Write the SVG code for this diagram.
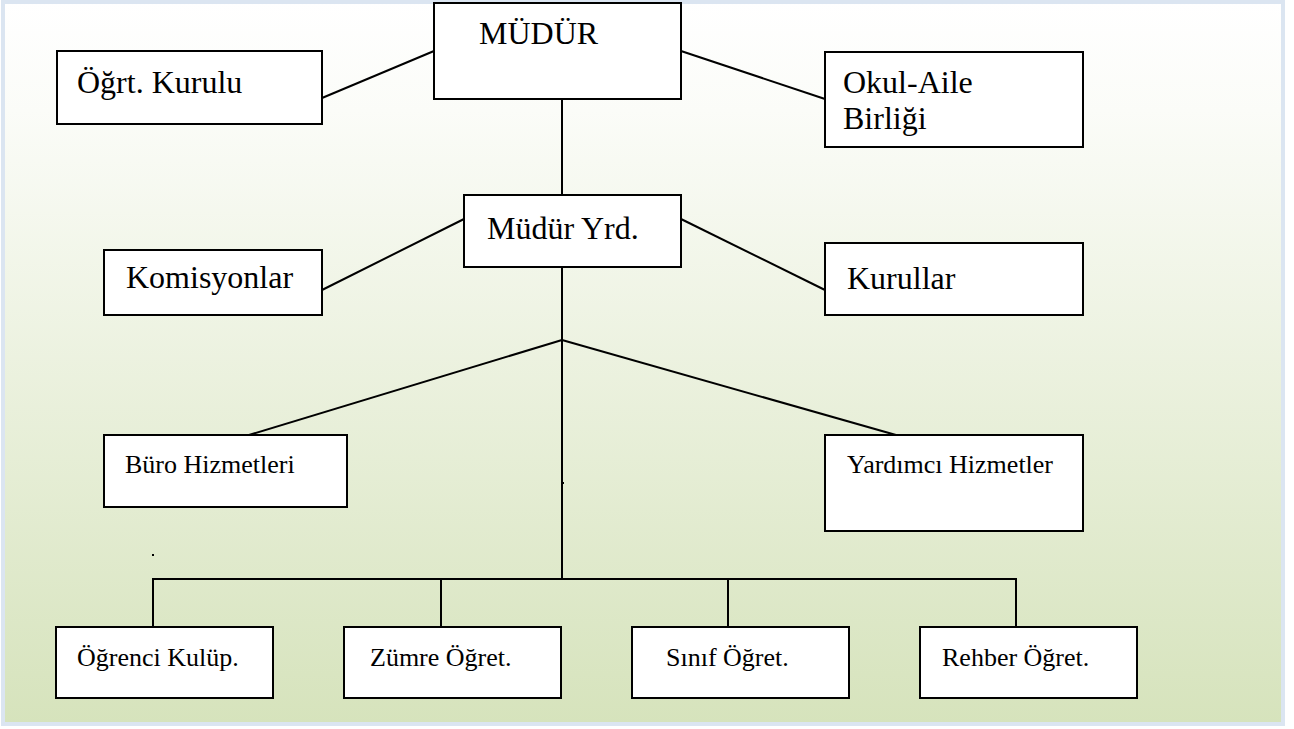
<svg xmlns="http://www.w3.org/2000/svg" width="1294" height="729" viewBox="0 0 1294 729">
<defs>
<linearGradient id="bg" x1="0" y1="0" x2="0" y2="1">
<stop offset="0" stop-color="#ffffff"/>
<stop offset="0.15" stop-color="#fbfcf8"/>
<stop offset="1" stop-color="#d6e3bc"/>
</linearGradient>
</defs>
<style>
.box{fill:#ffffff;stroke:#000000;stroke-width:2}
text{font-family:'Liberation Serif','Times New Roman',Tinos,'DejaVu Serif',serif;fill:#000}
.t{font-size:32px}
.m{font-size:26px}
.s{font-size:26px}
.c{stroke:#000;stroke-width:2;fill:none}
</style>
<rect x="0" y="0" width="1294" height="729" fill="#ffffff"/>
<rect x="3" y="2" width="1280" height="722" fill="url(#bg)" stroke="#dbe5f1" stroke-width="4"/>
<g id="connectors">
<line class="c" x1="322" y1="98" x2="434" y2="51"/>
<line class="c" x1="681" y1="51" x2="825" y2="99"/>
<line class="c" x1="562" y1="99" x2="562" y2="195"/>
<line class="c" x1="322" y1="290" x2="464" y2="219"/>
<line class="c" x1="681" y1="219" x2="825" y2="290"/>
<line class="c" x1="562" y1="267" x2="562" y2="579"/>
<line class="c" x1="562" y1="340" x2="249" y2="435"/>
<line class="c" x1="562" y1="340" x2="896" y2="435"/>
<polyline class="c" points="153,627 153,579 1016,579 1016,627"/>
<line class="c" x1="441" y1="579" x2="441" y2="627"/>
<line class="c" x1="728" y1="579" x2="728" y2="627"/>
<rect x="562" y="482" width="2" height="2" fill="#000"/>
<rect x="152" y="554" width="2" height="2" fill="#000"/>
</g>
<g id="mudur">
<rect class="box" x="434" y="3" width="247" height="96"/>
<text class="t" x="479" y="44">MÜDÜR</text>
</g>
<g id="ogrt-kurulu">
<rect class="box" x="57" y="51" width="265" height="73"/>
<text class="t" x="77" y="93">Öğrt. Kurulu</text>
</g>
<g id="okul-aile">
<rect class="box" x="825" y="52" width="258" height="95"/>
<text class="t" x="843" y="93">Okul-Aile</text>
<text class="t" x="843" y="129">Birliği</text>
</g>
<g id="mudur-yrd">
<rect class="box" x="464" y="195" width="217" height="72"/>
<text class="t" x="487" y="239">Müdür Yrd.</text>
</g>
<g id="komisyonlar">
<rect class="box" x="104" y="250" width="218" height="65"/>
<text class="t" x="126" y="288">Komisyonlar</text>
</g>
<g id="kurullar">
<rect class="box" x="825" y="243" width="258" height="72"/>
<text class="t" x="847" y="289">Kurullar</text>
</g>
<g id="buro">
<rect class="box" x="104" y="435" width="243" height="72"/>
<text class="m" x="125" y="473">Büro Hizmetleri</text>
</g>
<g id="yardimci">
<rect class="box" x="825" y="435" width="258" height="96"/>
<text class="m" x="847" y="473">Yardımcı Hizmetler</text>
</g>
<g id="ogrenci">
<rect class="box" x="56" y="627" width="217" height="71"/>
<text class="s" x="77" y="666">Öğrenci Kulüp.</text>
</g>
<g id="zumre">
<rect class="box" x="344" y="627" width="217" height="71"/>
<text class="s" x="370" y="666">Zümre Öğret.</text>
</g>
<g id="sinif">
<rect class="box" x="632" y="627" width="217" height="71"/>
<text class="s" x="666" y="666">Sınıf Öğret.</text>
</g>
<g id="rehber">
<rect class="box" x="920" y="627" width="217" height="71"/>
<text class="s" x="942" y="666">Rehber Öğret.</text>
</g>
</svg>
